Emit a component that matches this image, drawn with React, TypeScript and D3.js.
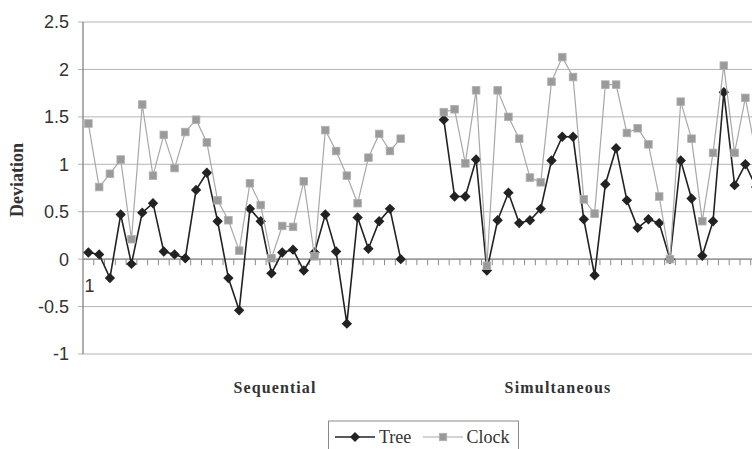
import React from "react";
import * as d3 from "d3";

const treeSequential = [0.07, 0.05, -0.2, 0.47, -0.05, 0.49, 0.59, 0.08, 0.05, 0.01, 0.73, 0.91, 0.4, -0.2, -0.54, 0.53, 0.4, -0.15, 0.07, 0.1, -0.12, 0.07, 0.47, 0.08, -0.68, 0.44, 0.11, 0.4, 0.53, 0.0];
const clockSequential = [1.43, 0.76, 0.9, 1.05, 0.21, 1.63, 0.88, 1.31, 0.96, 1.34, 1.47, 1.23, 0.62, 0.41, 0.09, 0.8, 0.57, 0.01, 0.35, 0.34, 0.82, 0.03, 1.36, 1.14, 0.88, 0.59, 1.07, 1.32, 1.14, 1.27];
const treeSimultaneous = [1.47, 0.66, 0.66, 1.05, -0.12, 0.41, 0.7, 0.38, 0.41, 0.53, 1.04, 1.29, 1.29, 0.42, -0.17, 0.79, 1.17, 0.62, 0.33, 0.42, 0.38, 0.0, 1.04, 0.64, 0.035, 0.4, 1.76, 0.78, 1.0, 0.76];
const clockSimultaneous = [1.55, 1.58, 1.01, 1.78, -0.07, 1.78, 1.5, 1.27, 0.86, 0.81, 1.87, 2.13, 1.92, 0.63, 0.48, 1.84, 1.84, 1.33, 1.38, 1.21, 0.66, 0.0, 1.66, 1.27, 0.4, 1.12, 2.04, 1.12, 1.7, 1.1];
const gapCount = 3;
const yTicks = [-1, -0.5, 0, 0.5, 1, 1.5, 2, 2.5];
const xTickLabels = ["1"];
const groupLabels = ["Sequential", "Simultaneous"];
const seriesNames = ["Tree", "Clock"];

const gap: (number | null)[] = Array(gapCount).fill(null);
const treeAll: (number | null)[] = [...treeSequential, ...gap, ...treeSimultaneous];
const clockAll: (number | null)[] = [...clockSequential, ...gap, ...clockSimultaneous];
const categories = treeAll.map((_, i) => i);

const W = 752;
const H = 449;
const left = 83;
const step = 10.77;

export default function App() {
  const x = d3
    .scaleBand<number>()
    .domain(categories)
    .range([left, left + step * categories.length])
    .paddingInner(0)
    .paddingOuter(0);
  const y = d3.scaleLinear().domain([-1, 2.5]).range([354, 22]);
  const cx = (i: number) => (x(i) as number) + x.bandwidth() / 2;

  const line = d3
    .line<number | null>()
    .defined((d) => d !== null)
    .x((_, i) => cx(i))
    .y((d) => y(d as number));

  const right = left + step * categories.length;
  const diamond = (px: number, py: number, r: number) =>
    `M${px},${py - r}L${px + r},${py}L${px},${py + r}L${px - r},${py}Z`;

  return (
    <div style={{ position: "fixed", left: 0, top: 0 }}>
      <svg width={W} height={H} style={{ display: "block", background: "#fff" }}>
        {yTicks.map((t) => (
          <line key={"g" + t} x1={left - 5} x2={right} y1={y(t)} y2={y(t)} stroke="#b4b4b4" strokeWidth={1} />
        ))}
        <line x1={left} x2={left} y1={y(2.5)} y2={y(-1)} stroke="#7a7a7a" strokeWidth={1.2} />
        <line x1={left} x2={right} y1={y(0)} y2={y(0)} stroke="#8a8a8a" strokeWidth={1.2} />
        {categories.map((c) => (
          <line key={"t" + c} x1={(x(c) as number) + step} x2={(x(c) as number) + step} y1={y(0)} y2={y(0) + 6} stroke="#8a8a8a" strokeWidth={1} />
        ))}
        {yTicks.map((t) => (
          <text key={"l" + t} x={69} y={y(t)} dy="0.36em" textAnchor="end" fontFamily="Liberation Sans, Arial, sans-serif" fontSize={18} fill="#333">
            {t}
          </text>
        ))}
        <text x={cx(0) + 1} y={292} textAnchor="middle" fontFamily="Liberation Sans, Arial, sans-serif" fontSize={18} fill="#333">
          {xTickLabels[0]}
        </text>
        <text transform={`translate(23,180) rotate(-90)`} textAnchor="middle" fontFamily="Liberation Serif, Times New Roman, serif" fontWeight="bold" fontSize={18} fill="#333">
          Deviation
        </text>
        <text x={275} y={393} textAnchor="middle" fontFamily="Liberation Serif, Times New Roman, serif" fontWeight="bold" fontSize={16} letterSpacing={1.1} fill="#333">
          {groupLabels[0]}
        </text>
        <text x={558} y={393} textAnchor="middle" fontFamily="Liberation Serif, Times New Roman, serif" fontWeight="bold" fontSize={16} letterSpacing={1.2} fill="#333">
          {groupLabels[1]}
        </text>
        <path d={line(treeAll) || ""} fill="none" stroke="#222" strokeWidth={1.6} />
        {treeAll.map((v, i) =>
          v === null ? null : <path key={"td" + i} d={diamond(cx(i), y(v), 5.2)} fill="#222" />
        )}
        <path d={line(clockAll) || ""} fill="none" stroke="#a8a8a8" strokeWidth={1.2} />
        {clockAll.map((v, i) =>
          v === null ? null : (
            <rect key={"cs" + i} x={cx(i) - 3.8} y={y(v) - 3.8} width={7.6} height={7.6} fill="#9a9a9a" stroke="#b0b0b0" strokeWidth={0.8} />
          )
        )}
        <rect x={328.5} y={421} width={190} height={40} fill="#fff" stroke="#8a8a8a" strokeWidth={1} />
        <line x1={335} x2={375} y1={437} y2={437} stroke="#222" strokeWidth={1.6} />
        <path d={diamond(355, 437, 5)} fill="#222" />
        <text x={379} y={443} fontFamily="Liberation Serif, Times New Roman, serif" fontSize={18} fill="#333">
          {seriesNames[0]}
        </text>
        <line x1={423} x2={463} y1={437} y2={437} stroke="#a8a8a8" strokeWidth={1.2} />
        <rect x={443 - 3.7} y={437 - 3.7} width={7.4} height={7.4} fill="#9a9a9a" stroke="#b0b0b0" strokeWidth={0.8} />
        <text x={466.5} y={443} fontFamily="Liberation Serif, Times New Roman, serif" fontSize={18} fill="#333">
          {seriesNames[1]}
        </text>
      </svg>
    </div>
  );
}
